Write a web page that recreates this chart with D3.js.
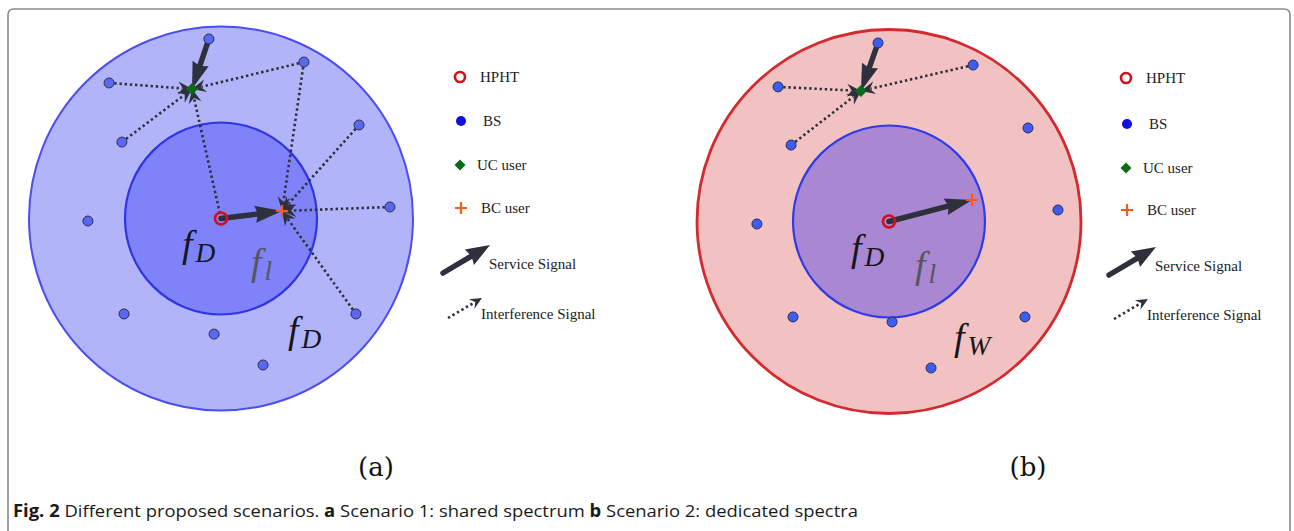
<!DOCTYPE html>
<html>
<head>
<meta charset="utf-8">
<script src="https://cdn.jsdelivr.net/npm/d3@7"></script>
<style>
  html, body { margin: 0; padding: 0; background: #fff; }
  svg { display: block; }
</style>
</head>
<body>
<svg id="fig" width="1294" height="531"></svg>
<script>
// ---- Data: positions in km relative to the HPHT tower (outer cell radius = 10 km) ----
const outerRadius = 10;
const innerRadius = 5;

// Scenario 1: shared spectrum
const bsA = [
  [-0.63, 9.35], [4.32, 8.15], [-5.83, 7.06], [7.19, 4.87], [-5.16, 3.98],
  [-6.93, -0.13], [8.80, 0.60], [-5.05, -4.97], [7.03, -4.97], [-0.36, -6.02], [2.19, -7.63]
];
const ucA = [-1.51, 6.74];
const bcA = [3.18, 0.39];
const ucServingA = 0;                 // index of BS serving the UC user
const ucInterferersA = [2, 1, 4];     // BS indices interfering at the UC user
const ucHphtInterfA = true;           // HPHT also interferes at the UC user
const bcInterferersA = [1, 3, 6, 8];  // BS indices interfering at the BC user

// Scenario 2: dedicated spectra
const bsB = [
  [-0.57, 9.30], [4.38, 8.15], [-5.78, 7.01], [7.24, 4.87], [-5.10, 3.98],
  [-6.88, -0.13], [8.80, 0.60], [-5.00, -4.97], [0.16, -5.23], [7.08, -4.97], [2.19, -7.63]
];
const ucB = [-1.46, 6.80];
const bcB = [4.32, 1.12];
const ucServingB = 0;
const ucInterferersB = [2, 1, 4];
const ucHphtInterfB = false;
const bcInterferersB = [];

const legendLabels = ["HPHT", "BS", "UC user", "BC user", "Service Signal", "Interference Signal"];
const panelLabels = ["(a)", "(b)"];
const captionBold = "Fig. 2";
const captionParts = [
  [" Different proposed scenarios. ", false], ["a", true], [" Scenario 1: shared spectrum ", false],
  ["b", true], [" Scenario 2: dedicated spectra", false]
];

// ---- Layout / style ----
const svg = d3.select("#fig");
const ink = "#2e313c";
const serifFont = "'Liberation Serif', 'Times New Roman', Times, 'DejaVu Serif', serif";

// frame with rounded top corners, open at the bottom
svg.append("path")
  .attr("d", "M8,531 L8,15 Q8,9 14,9 L1284,9 Q1290,9 1290,15 L1290,531")
  .attr("fill", "none").attr("stroke", "#8a8a8a").attr("stroke-width", 1.6);

const defs = svg.append("defs");
const glow = defs.append("filter").attr("id", "soft").attr("x", "-5%").attr("y", "-5%").attr("width", "110%").attr("height", "110%");
glow.append("feGaussianBlur").attr("stdDeviation", 0.7);

function arrowHead(g, x1, y1, x2, y2, len, wid, notch, fill) {
  const dx = x2 - x1, dy = y2 - y1, L = Math.hypot(dx, dy);
  const ux = dx / L, uy = dy / L, px = -uy, py = ux;
  const bx = x2 - ux * len, by = y2 - uy * len;
  const nx = x2 - ux * len * (1 - notch), ny = y2 - uy * len * (1 - notch);
  g.append("path")
    .attr("d", `M${x2},${y2} L${bx + px * wid / 2},${by + py * wid / 2} L${nx},${ny} L${bx - px * wid / 2},${by - py * wid / 2} Z`)
    .attr("fill", fill);
}

function serviceArrow(g, x1, y1, x2, y2, len = 27, wid = 17) {
  const dx = x2 - x1, dy = y2 - y1, L = Math.hypot(dx, dy);
  const ex = x2 - dx / L * len * 0.8, ey = y2 - dy / L * len * 0.8;
  g.append("line").attr("x1", x1).attr("y1", y1).attr("x2", ex).attr("y2", ey)
    .attr("stroke", ink).attr("stroke-width", 5.5).attr("stroke-linecap", "round");
  arrowHead(g, x1, y1, x2, y2, len, wid, 0.1, ink);
}

function interfArrow(g, x1, y1, x2, y2, len = 14, wid = 13) {
  const dx = x2 - x1, dy = y2 - y1, L = Math.hypot(dx, dy);
  const ex = x2 - dx / L * len * 0.7, ey = y2 - dy / L * len * 0.7;
  g.append("line").attr("x1", x1).attr("y1", y1).attr("x2", ex).attr("y2", ey)
    .attr("stroke", ink).attr("stroke-width", 2.6).attr("stroke-dasharray", "2.4,2.8");
  arrowHead(g, x1, y1, x2, y2, len, wid, 0.35, ink);
}

function hphtMarker(g, x, y, r = 6) {
  g.append("circle").attr("cx", x).attr("cy", y).attr("r", r)
    .attr("fill", "none").attr("stroke", "#d0101a").attr("stroke-width", 2.6);
}
function bsMarker(g, x, y, fill, r = 5) {
  g.append("circle").attr("cx", x).attr("cy", y).attr("r", r)
    .attr("fill", fill).attr("stroke", "#2b2f55").attr("stroke-width", 1);
}
function ucMarker(g, x, y, s = 6) {
  g.append("path").attr("d", `M${x},${y - s} L${x + s},${y} L${x},${y + s} L${x - s},${y} Z`)
    .attr("fill", "#0b6a1a");
}
function bcMarker(g, x, y, s = 6) {
  g.append("path").attr("d", `M${x - s},${y} H${x + s} M${x},${y - s} V${y + s}`)
    .attr("stroke", "#ff5a14").attr("stroke-width", 2.2).attr("fill", "none");
}

function mathLabel(g, x, y, sub, color, size = 38) {
  const t = g.append("text").attr("x", x).attr("y", y)
    .attr("font-family", serifFont)
    .attr("font-style", "italic").attr("fill", color);
  t.append("tspan").attr("font-size", size).text("f");
  t.append("tspan").attr("font-size", size * 0.72).attr("dx", 3).attr("dy", 5).text(sub);
}

function drawPanel(opt) {
  const g = svg.append("g");
  const R = 192;
  const x = d3.scaleLinear().domain([-outerRadius, outerRadius]).range([opt.cx - R, opt.cx + R]);
  const y = d3.scaleLinear().domain([-outerRadius, outerRadius]).range([opt.cy + R, opt.cy - R]);
  const rs = d3.scaleLinear().domain([0, outerRadius]).range([0, R]);

  g.append("circle").attr("cx", x(0)).attr("cy", y(0)).attr("r", rs(outerRadius))
    .attr("fill", opt.outerFill).attr("stroke", opt.outerStroke).attr("stroke-width", opt.outerWidth)
    .attr("filter", opt.soft ? "url(#soft)" : null);
  g.append("circle").attr("cx", x(0)).attr("cy", y(0)).attr("r", rs(innerRadius))
    .attr("fill", opt.innerFill).attr("stroke", opt.innerStroke).attr("stroke-width", 2.2);

  mathLabel(g, opt.fD[0], opt.fD[1], "D", "#15161c");
  mathLabel(g, opt.fl[0], opt.fl[1], "l", "#55565e");
  mathLabel(g, opt.fo[0], opt.fo[1], opt.foSub, "#15161c");

  const bs = opt.bs;
  const [ux, uy] = [x(opt.uc[0]), y(opt.uc[1])];
  const [bx, by] = [x(opt.bc[0]), y(opt.bc[1])];
  const hx = x(0), hy = y(0);

  opt.ucInterf.forEach(i => interfArrow(g, x(bs[i][0]), y(bs[i][1]), ux, uy));
  if (opt.ucHpht) interfArrow(g, hx, hy, ux, uy);
  opt.bcInterf.forEach(i => interfArrow(g, x(bs[i][0]), y(bs[i][1]), bx, by));

  serviceArrow(g, x(bs[opt.ucServe][0]), y(bs[opt.ucServe][1]), ux, uy);
  serviceArrow(g, hx, hy, bx, by);

  bs.forEach(p => bsMarker(g, x(p[0]), y(p[1]), opt.bsFill));
  hphtMarker(g, hx, hy);
  g.append("circle").attr("cx", hx).attr("cy", hy).attr("r", 2.2).attr("fill", ink);
  ucMarker(g, ux, uy);
  bcMarker(g, bx, by);

  // legend
  const L = g.append("g");
  const lx = opt.legX, ly = opt.legY;
  const ft = (tx, ty, s) => L.append("text").attr("x", tx).attr("y", ty)
    .attr("font-family", serifFont).attr("font-size", 15)
    .attr("fill", "#222").text(s);
  hphtMarker(L, lx, ly[0], 5);
  ft(lx + 20, ly[0] + 5, legendLabels[0]);
  L.append("circle").attr("cx", lx + 1).attr("cy", ly[1]).attr("r", 5).attr("fill", "#1010dd");
  ft(lx + 23, ly[1] + 5, legendLabels[1]);
  ucMarker(L, lx, ly[2], 5.5);
  ft(lx + 17, ly[2] + 5, legendLabels[2]);
  bcMarker(L, lx + 1, ly[3], 6);
  ft(lx + 21, ly[3] + 5, legendLabels[3]);
  serviceArrow(L, lx - 17, ly[4] + 12, lx + 30, ly[4] - 16, 24, 18);
  ft(lx + 29, ly[4] + 8, legendLabels[4]);
  interfArrow(L, lx - 12, ly[5] + 7, lx + 22, ly[5] - 13, 12, 11);
  ft(lx + 21, ly[5] + 8, legendLabels[5]);

  g.append("text").attr("x", opt.labelX).attr("y", 476).attr("text-anchor", "middle")
    .attr("font-family", "'DejaVu Serif', 'Liberation Serif', serif").attr("font-size", 26)
    .attr("fill", "#111").text(opt.label);
}

drawPanel({
  cx: 221, cy: 218.5, bs: bsA, uc: ucA, bc: bcA,
  ucServe: ucServingA, ucInterf: ucInterferersA, ucHpht: ucHphtInterfA, bcInterf: bcInterferersA,
  outerFill: "#b1b4f8", outerStroke: "#4a4ef0", outerWidth: 2,
  innerFill: "#7f82f8", innerStroke: "#2f34e4", bsFill: "#5a68f0", soft: false,
  fD: [182, 257], fl: [251, 275], fo: [288, 343], foSub: "D",
  legX: 460, legY: [77, 121, 165, 208, 261, 311], labelX: 376, label: panelLabels[0]
});

drawPanel({
  cx: 889, cy: 221.5, bs: bsB, uc: ucB, bc: bcB,
  ucServe: ucServingB, ucInterf: ucInterferersB, ucHpht: ucHphtInterfB, bcInterf: bcInterferersB,
  outerFill: "#f2c2c2", outerStroke: "#d22a2e", outerWidth: 2.8,
  innerFill: "#a987d2", innerStroke: "#2f3ae8", bsFill: "#3d5cf2", soft: true,
  fD: [851, 261], fl: [915, 278], fo: [954, 350], foSub: "W",
  legX: 1126, legY: [78, 124, 168, 210, 263, 312], labelX: 1028, label: panelLabels[1]
});

// caption
const cap = svg.append("text").attr("x", 13).attr("y", 517)
  .attr("font-family", "'Liberation Sans Narrow', 'Open Sans', 'Liberation Sans', sans-serif")
  .attr("font-size", 17).attr("fill", "#1a1a1a");
cap.append("tspan").attr("font-weight", "bold").text(captionBold);
captionParts.forEach(([s, b]) => cap.append("tspan").attr("font-weight", b ? "bold" : "normal").text(s));
cap.attr("textLength", 845).attr("lengthAdjust", "spacingAndGlyphs");
</script>
</body>
</html>
